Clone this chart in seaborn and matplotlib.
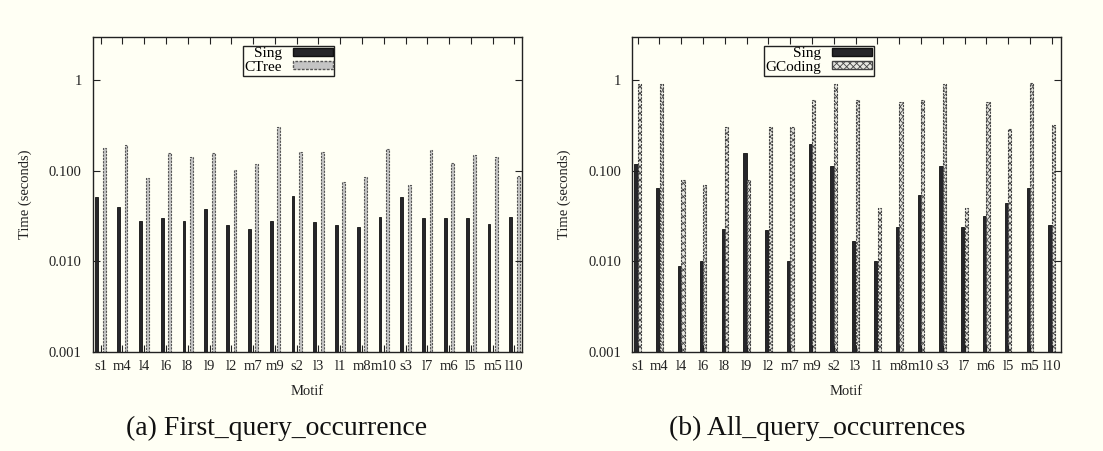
import matplotlib.pyplot as plt
import matplotlib.ticker as mticker
from matplotlib.patches import Patch
import pandas as pd
import seaborn as sns

motifs = ['s1', 'm4', 'l4', 'l6', 'l8', 'l9', 'l2', 'm7', 'm9', 's2',
          'l3', 'l1', 'm8', 'm10', 's3', 'l7', 'm6', 'l5', 'm5', 'l10']

# (a) first query occurrence
first_sing = [0.052, 0.040, 0.028, 0.030, 0.028, 0.038, 0.025, 0.023, 0.028, 0.053,
              0.027, 0.025, 0.024, 0.031, 0.051, 0.030, 0.030, 0.030, 0.026, 0.031]
first_ctree = [0.180, 0.191, 0.083, 0.157, 0.143, 0.157, 0.103, 0.119, 0.308, 0.160,
               0.163, 0.076, 0.086, 0.174, 0.069, 0.171, 0.123, 0.151, 0.143, 0.088]

# (b) all query occurrences
all_sing = [0.118, 0.065, 0.009, 0.010, 0.023, 0.157, 0.022, 0.010, 0.200, 0.114,
            0.017, 0.010, 0.024, 0.054, 0.114, 0.024, 0.032, 0.044, 0.064, 0.025]
all_gcoding = [0.91, 0.90, 0.079, 0.070, 0.303, 0.079, 0.303, 0.308, 0.60, 0.90,
               0.61, 0.039, 0.58, 0.60, 0.90, 0.039, 0.58, 0.290, 0.94, 0.32]

ytick_vals = [0.001, 0.01, 0.1, 1]
ytick_labels = ['0.001', '0.010', '0.100', '1']

bg = '#fffff4'
plt.rcParams['font.family'] = ['Liberation Serif', 'DejaVu Serif']
plt.rcParams['hatch.linewidth'] = 0.6

fig = plt.figure(figsize=(11.03, 4.51), dpi=100, facecolor=bg)
ax1 = fig.add_axes([0.0843, 0.2195, 0.389, 0.6984], facecolor=bg)
ax2 = fig.add_axes([0.573, 0.2195, 0.389, 0.6984], facecolor=bg)


def make_df(sing, other, name):
    return pd.DataFrame({
        'Motif': motifs * 2,
        'method': ['Sing'] * len(motifs) + [name] * len(motifs),
        'time': sing + other,
    })


def style_axes(ax, xlim):
    ax.set_yscale('log')
    ax.set_ylim(0.001, 3)
    ax.set_xlim(*xlim)
    ax.yaxis.set_major_locator(mticker.FixedLocator(ytick_vals))
    ax.yaxis.set_major_formatter(mticker.FixedFormatter(ytick_labels))
    ax.yaxis.set_minor_locator(mticker.NullLocator())
    ax.tick_params(axis='both', which='major', direction='in', top=True, right=True,
                   length=5, width=0.8, labelsize=10.5, colors='#222222')
    ax.tick_params(axis='y', pad=8)
    ax.tick_params(axis='x', pad=6)
    for s in ax.spines.values():
        s.set_color('#222222')
        s.set_linewidth(1.0)
    ax.set_xlabel('Motif', fontsize=10.5, color='#222222')
    ax.set_ylabel('Time (seconds)', fontsize=10.5, color='#222222')
    ax.xaxis.set_label_coords(0.5, -0.105)
    ax.yaxis.set_label_coords(-0.143, 0.5)


legend_kw = dict(loc='upper center', markerfirst=False, fontsize=11, frameon=True,
                 fancybox=False, edgecolor='#222222', facecolor=bg, framealpha=1,
                 handlelength=2.6, handleheight=0.45, labelspacing=0.02,
                 borderpad=0.12, handletextpad=0.7, borderaxespad=0)

# left panel
df1 = make_df(first_sing, first_ctree, 'CTree')
sns.barplot(data=df1, x='Motif', y='time', hue='method', ax=ax1,
            width=0.68, gap=0.62, legend=False, errorbar=None)
for p in ax1.containers[0]:
    p.set_facecolor('#26262a')
    p.set_edgecolor('#111111')
    p.set_linewidth(0.6)
for p in ax1.containers[1]:
    p.set_facecolor('#c4c4c4')
    p.set_edgecolor('#555555')
    p.set_linestyle((0, (2, 1)))
    p.set_linewidth(0.8)
style_axes(ax1, (-0.35, 19.35))
h1 = [Patch(facecolor='#26262a', edgecolor='#111111', label='Sing'),
      Patch(facecolor='#c4c4c4', edgecolor='#555555', linestyle=(0, (2, 1)), label='CTree')]
ax1.legend(handles=h1, bbox_to_anchor=(0.456, 0.973), **legend_kw)

# right panel
df2 = make_df(all_sing, all_gcoding, 'GCoding')
sns.barplot(data=df2, x='Motif', y='time', hue='method', ax=ax2,
            width=0.32, gap=0.08, legend=False, errorbar=None)
for p in ax2.containers[0]:
    p.set_facecolor('#26262a')
    p.set_edgecolor('#111111')
    p.set_linewidth(0.6)
for p in ax2.containers[1]:
    p.set_facecolor('#e6e6e0')
    p.set_edgecolor('#444444')
    p.set_hatch('xxxxx')
    p.set_linestyle((0, (2, 1)))
    p.set_linewidth(0.8)
style_axes(ax2, (-0.26, 19.43))
h2 = [Patch(facecolor='#26262a', edgecolor='#111111', label='Sing'),
      Patch(facecolor='#e6e6e0', edgecolor='#444444', hatch='xxxxx', label='GCoding')]
ax2.legend(handles=h2, bbox_to_anchor=(0.435, 0.973), **legend_kw)

fig.text(277 / 1103, 0.05, '(a) First_query_occurrence', ha='center', va='center',
         fontsize=20, color='#111111')
fig.text(817 / 1103, 0.05, '(b) All_query_occurrences', ha='center', va='center',
         fontsize=20, color='#111111')

fig.savefig('out.png', dpi=100, facecolor=bg)
